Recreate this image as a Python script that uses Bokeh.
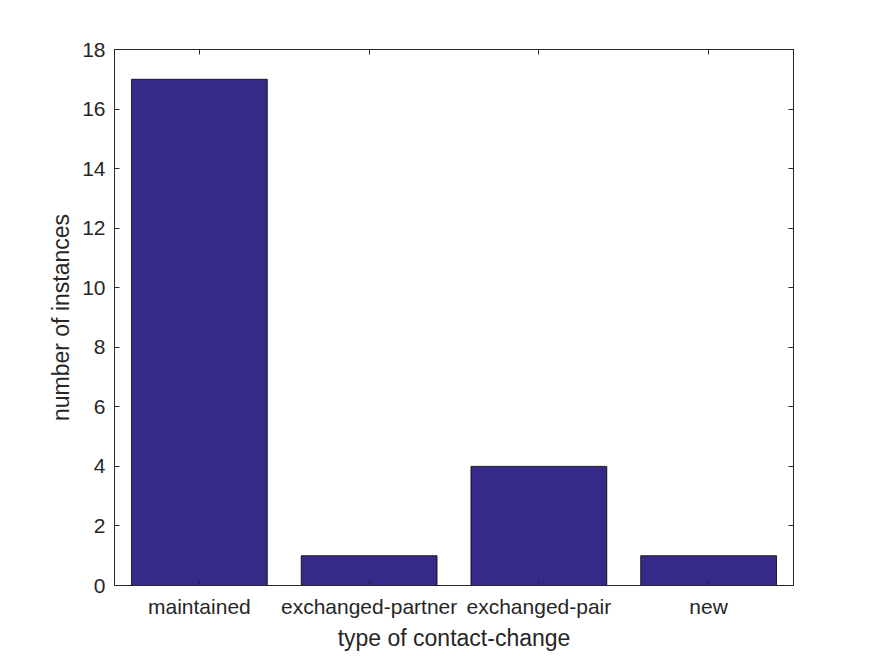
from bokeh.plotting import figure
from bokeh.models import FixedTicker, LinearAxis, Range1d
from bokeh.embed import file_html
from bokeh.resources import INLINE

categories = ["maintained", "exchanged-partner", "exchanged-pair", "new"]
counts = [17, 1, 4, 1]
y_ticks = [0, 2, 4, 6, 8, 10, 12, 14, 16, 18]

xs = [i + 1 for i in range(len(categories))]

p = figure(width=875, height=656, output_backend="svg", toolbar_location=None,
           x_range=Range1d(0.5, 4.5), y_range=Range1d(0, 18),
           min_border_left=114, min_border_right=82, min_border_top=49, min_border_bottom=71)
p.background_fill_color = "white"
p.border_fill_color = "white"
p.outline_line_color = "#262626"
p.outline_line_width = 1
p.xgrid.visible = False
p.ygrid.visible = False

p.vbar(x=xs, top=counts, width=0.8, fill_color="#352a87", line_color="black", line_width=0.8)

TXT = "#262626"
FONT = "Liberation Sans"

for ax in [p.xaxis[0], p.yaxis[0]]:
    ax.major_tick_in = 5
    ax.major_tick_out = 0
    ax.minor_tick_in = 0
    ax.minor_tick_out = 0
    ax.axis_line_color = TXT
    ax.major_tick_line_color = TXT
    ax.major_label_text_color = TXT
    ax.major_label_text_font = FONT
    ax.major_label_text_font_size = "21px"
    ax.axis_label_text_color = TXT
    ax.axis_label_text_font = FONT
    ax.axis_label_text_font_size = "23px"
    ax.axis_label_text_font_style = "normal"

p.xaxis[0].ticker = FixedTicker(ticks=xs)
p.xaxis[0].major_label_overrides = {x: c for x, c in zip(xs, categories)}
p.xaxis[0].axis_label = "type of contact-change"
p.xaxis[0].major_label_standoff = 9
p.xaxis[0].axis_label_standoff = 4

p.yaxis[0].ticker = FixedTicker(ticks=y_ticks)
p.yaxis[0].axis_label = "number of instances"
p.yaxis[0].major_label_standoff = 9
p.yaxis[0].axis_label_standoff = 5

top = LinearAxis(ticker=FixedTicker(ticks=xs), major_tick_in=5, major_tick_out=0,
                 minor_tick_in=0, minor_tick_out=0, major_label_text_color=None,
                 axis_line_color=TXT, major_tick_line_color=TXT)
right = LinearAxis(ticker=FixedTicker(ticks=y_ticks), major_tick_in=5, major_tick_out=0,
                   minor_tick_in=0, minor_tick_out=0, major_label_text_color=None,
                   axis_line_color=TXT, major_tick_line_color=TXT)
p.add_layout(top, "above")
p.add_layout(right, "right")

open("out.html", "w").write(file_html(p, INLINE))
